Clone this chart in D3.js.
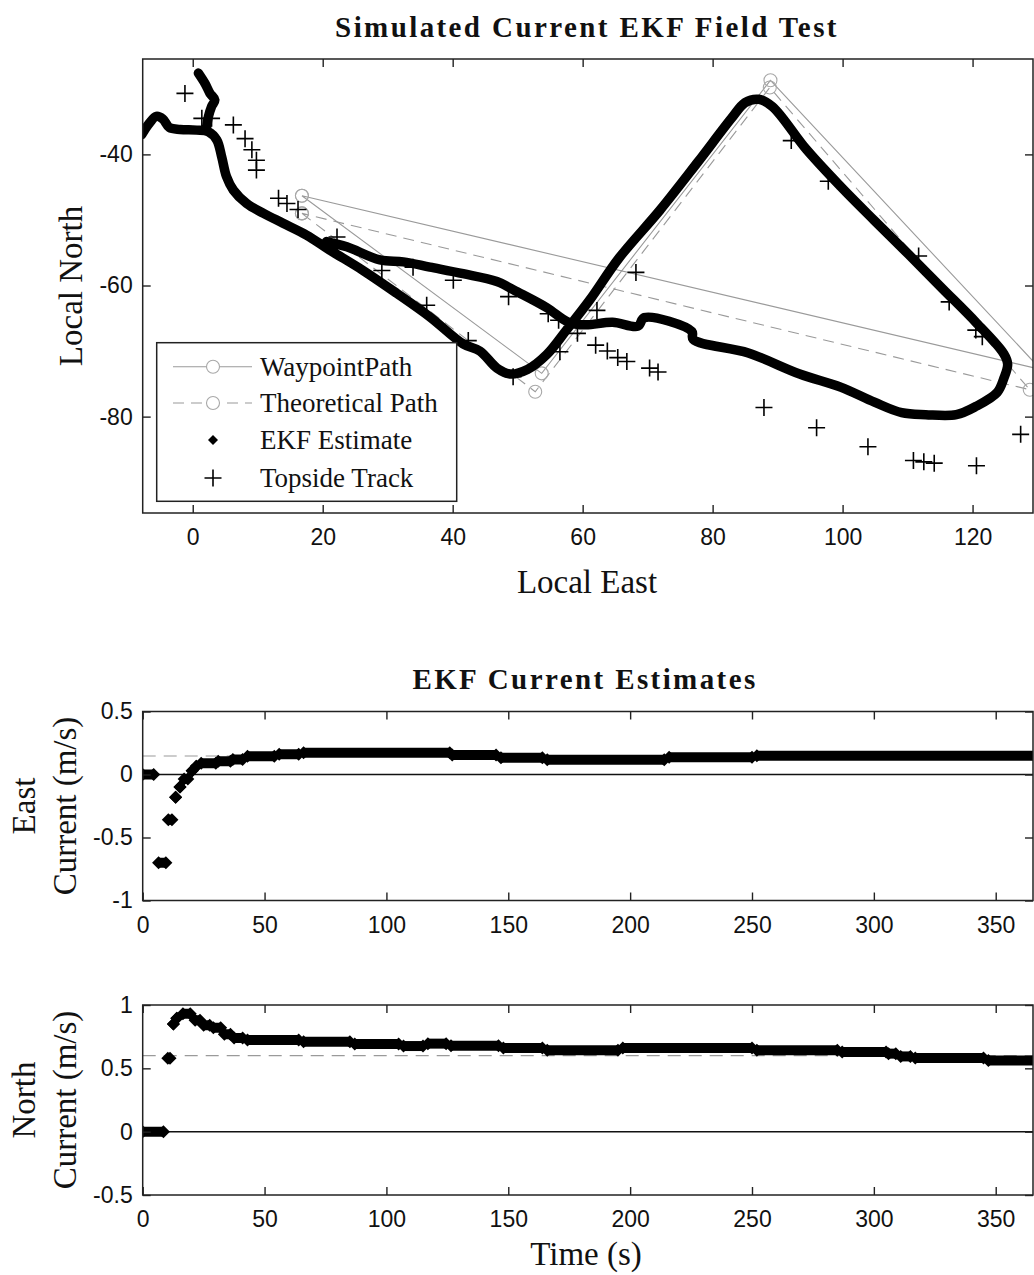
<!DOCTYPE html>
<html>
<head>
<meta charset="utf-8">
<script src="https://cdnjs.cloudflare.com/ajax/libs/d3/7.8.5/d3.min.js"></script>
<style>
  body { margin: 0; background: #fff; }
  .tick text { font-family: "Liberation Sans", Arial, sans-serif; font-size: 23px; fill: #111; }
  .tick line { stroke: #222; stroke-width: 1.4; }
  .serif { font-family: "Liberation Serif", "Times New Roman", serif; fill: #111; }
</style>
</head>
<body>
<div id="chart"></div>
<script>
// ==============================
// Data
// ==============================

// Waypoint path and theoretical (current-drifted) path, closed loops
var waypointEast  = [16.8, 53.7, 88.9, 130.5, 16.8];
var waypointNorth = [-46.3, -73.4, -28.7, -72.8, -46.3];
var theoryEast    = [16.8, 52.7, 88.8, 128.8, 16.8];
var theoryNorth   = [-49.0, -76.2, -29.8, -75.9, -49.0];

// EKF position estimate (NaN = gap between the two pieces of the trail)
var ekfEast = [-7.85, -6.8, -5.6, -4.6, -3.6, -1.95, 0.6, 2.4, 3.7, 4.46, 5.2, 6.25, 8.3, 10.9, 13.9,
  17.5, 21.1, 26.2, 31.4, 36.5, 41.6, 44.2, 46.8, 48.8, 51.5, 54.5, 57.5, 61.1, 65.6, 71.9, 77.7,
  82.9, 85.0, 87.1, 89.2, 94.4, 99.7, 104.9, 110.2, 115.4, 120.6, 124.8, 125.4, 124.8, 123.8,
  120.6, 117.5, 112.8, 109.1, 104.9, 99.7, 93.4, 85.5, 77.0, 76.8, 69.5, 68.5, 64.6, 60.4, 57.8,
  54.5, 50.0, 46.8, 41.6, 36.5, 32.4, 28.8, 23.7, 20.6,
  NaN,
  0.87, 1.9, 2.66, 3.4, 2.9, 2.4, 2.15];
var ekfNorth = [-37.0, -35.4, -34.2, -34.6, -35.9, -36.2, -36.3, -36.55, -37.8, -40.4, -43.4, -45.45, -47.5, -49.0, -50.5,
  -52.3, -54.6, -57.7, -61.2, -64.8, -68.9, -70.0, -72.6, -73.5, -72.8, -70.5, -66.8, -62.2, -55.8, -48.5, -41.2,
  -34.5, -32.1, -31.6, -32.7, -39.2, -44.9, -50.1, -55.3, -60.5, -65.7, -70.4, -72.0, -74.2, -76.3,
  -78.4, -79.7, -79.7, -79.4, -77.8, -75.5, -73.5, -70.3, -68.2, -67.0, -64.9, -66.2, -65.6, -66.0, -65.6,
  -63.4, -61.0, -59.4, -58.2, -57.2, -56.4, -56.1, -54.1, -53.3,
  NaN,
  -27.6, -29.2, -30.7, -31.7, -32.7, -34.3, -35.8];

// Topside (surface) acoustic track fixes
var trackEast = [-1.2, 1.4, 2.9, 6.25, 8.05, 9.1, 9.8, 9.8, 13.2, 14.5, 16.2, 22.2, 29.1, 33.9, 36.0,
  40.1, 42.4, 48.6, 49.3, 54.7, 56.3, 56.5, 59.2, 62.2, 62.0, 63.8, 65.4, 66.8, 68.2, 70.3, 71.6,
  87.9, 92.1, 96.0, 97.8, 103.9, 110.9, 111.7, 112.5, 114.1, 116.4, 120.5, 121.5, 120.6, 127.4];
var trackNorth = [-30.7, -34.5, -34.5, -35.5, -37.6, -39.3, -40.9, -42.4, -46.7, -47.5, -48.4, -52.6, -57.7, -57.2, -63.0,
  -59.2, -68.4, -61.7, -73.9, -64.3, -65.3, -70.1, -67.3, -63.8, -69.1, -70.0, -71.0, -71.6, -58.0, -72.6, -73.2,
  -78.6, -37.9, -81.7, -44.1, -84.6, -86.7, -55.5, -86.9, -87.1, -62.5, -66.8, -67.8, -87.5, -82.7];

// EKF current estimates: runs of [t start, t end, value] (m/s)
var eastRuns = [[0, 4.5, 0], [6.5, 9.5, -0.70], [10.5, 12, -0.36], [13.5, 13.5, -0.18], [15.3, 15.3, -0.10],
  [17, 18.5, -0.035], [20.3, 20.3, 0.03], [22, 22, 0.065], [24, 30, 0.09], [31, 36, 0.105], [37, 41, 0.12],
  [43, 54, 0.145], [56, 64, 0.16], [66, 126, 0.172], [127, 145, 0.155], [147, 164, 0.132],
  [166, 214, 0.117], [216, 250, 0.136], [252, 366, 0.149]];
var northRuns = [[0, 8.5, 0], [10.3, 11.2, 0.58], [12.6, 12.6, 0.85], [14, 14, 0.895], [16.5, 19.5, 0.93],
  [21.5, 23.5, 0.88], [25, 27.5, 0.84], [29, 32, 0.82], [33.5, 36, 0.77], [37.5, 41, 0.74], [43, 64, 0.724],
  [66, 85, 0.71], [87, 105, 0.692], [107, 115, 0.676], [117, 124.5, 0.695], [126.5, 146, 0.679],
  [148, 164, 0.661], [166, 195, 0.642], [197, 250, 0.661], [252, 285, 0.642], [287, 305, 0.629],
  [306, 309, 0.616], [311, 315, 0.594], [317, 345, 0.581], [347, 366, 0.562]];

// Simulated (true) current
var trueEast = 0.147;
var trueNorth = 0.6;

// Tick values
var pathEastTicks = [0, 20, 40, 60, 80, 100, 120];
var pathNorthTicks = [-40, -60, -80];
var timeTicks = [0, 50, 100, 150, 200, 250, 300, 350];
var eastCurTicks = [0.5, 0, -0.5, -1];
var northCurTicks = [1, 0.5, 0, -0.5];

var legendLabels = ["WaypointPath", "Theoretical Path", "EKF Estimate", "Topside Track"];

// ==============================
// SVG and scales
// ==============================
var svgWidth = 1034;
var svgHeight = 1275;

var svg = d3.select("#chart").append("svg")
  .attr("width", svgWidth).attr("height", svgHeight);

var plotLeft = 142.7, plotRight = 1033;

var xPath = d3.scaleLinear().domain([-7.7, 129.3]).range([plotLeft, plotRight]);
var yPath = d3.scaleLinear().domain([-94.7, -25.45]).range([513, 59]);

var xTime = d3.scaleLinear().domain([0, 365.3]).range([plotLeft, plotRight]);
var yEast = d3.scaleLinear().domain([-1, 0.5]).range([900.5, 711.5]);
var yNorth = d3.scaleLinear().domain([-0.5, 1]).range([1195, 1005]);

var grayLine = "#9a9a9a";
var grayMarker = "#a8a8a8";

// plus marker and diamond marker path strings
function plusPath(x, y, r) {
  return "M" + (x - r) + "," + y + "H" + (x + r) + "M" + x + "," + (y - r) + "V" + (y + r);
}
function diamondPath(x, y, r) {
  return "M" + x + "," + (y - r) + "L" + (x + r) + "," + y + "L" + x + "," + (y + r) + "L" + (x - r) + "," + y + "Z";
}

// Draws axes (ticks inside on all four sides) and the box for one panel
function drawFrame(x, y, xTicks, yTicks, id) {
  var y0 = y.range()[0], y1 = y.range()[1];
  var fmt = function(d) { return String(d); };

  svg.append("g").attr("transform", `translate(0, ${y0})`)
    .call(d3.axisBottom(x).tickValues(xTicks).tickSizeInner(-8).tickSizeOuter(0).tickPadding(16).tickFormat(fmt))
    .call(g => g.select(".domain").remove());
  svg.append("g").attr("transform", `translate(0, ${y1})`)
    .call(d3.axisTop(x).tickValues(xTicks).tickSizeInner(-8).tickSizeOuter(0).tickFormat(""))
    .call(g => g.select(".domain").remove());
  svg.append("g").attr("transform", `translate(${plotLeft}, 0)`)
    .call(d3.axisLeft(y).tickValues(yTicks).tickSizeInner(-8).tickSizeOuter(0).tickPadding(10).tickFormat(fmt))
    .call(g => g.select(".domain").remove());
  svg.append("g").attr("transform", `translate(${plotRight}, 0)`)
    .call(d3.axisRight(y).tickValues(yTicks).tickSizeInner(-8).tickSizeOuter(0).tickFormat(""))
    .call(g => g.select(".domain").remove());

  svg.selectAll(".tick text").attr("fill", "#111");

  svg.append("rect")
    .attr("x", plotLeft).attr("y", y1)
    .attr("width", plotRight - plotLeft).attr("height", y0 - y1)
    .attr("fill", "none").attr("stroke", "#222").attr("stroke-width", 1.5);

  svg.append("clipPath").attr("id", id)
    .append("rect")
    .attr("x", plotLeft).attr("y", y1)
    .attr("width", plotRight - plotLeft).attr("height", y0 - y1);
}

// ==============================
// Panel 1: trajectory
// ==============================
svg.append("text").attr("class", "serif")
  .attr("x", 587).attr("y", 37)
  .attr("text-anchor", "middle")
  .attr("font-size", "29px").attr("font-weight", "bold").attr("letter-spacing", "2.4px")
  .text("Simulated Current EKF Field Test");

var pathGroup = svg.append("g").attr("clip-path", "url(#clipPath1)");

var xyLine = d3.line()
  .defined(d => !isNaN(d[0]))
  .x(d => xPath(d[0])).y(d => yPath(d[1]));

var waypoints = waypointEast.map((e, i) => [e, waypointNorth[i]]);
var theory = theoryEast.map((e, i) => [e, theoryNorth[i]]);
var ekf = ekfEast.map((e, i) => [e, ekfNorth[i]]);
var track = trackEast.map((e, i) => [e, trackNorth[i]]);

pathGroup.append("path").datum(waypoints)
  .attr("d", xyLine).attr("fill", "none")
  .attr("stroke", grayLine).attr("stroke-width", 1.1);
pathGroup.append("path").datum(theory)
  .attr("d", xyLine).attr("fill", "none")
  .attr("stroke", grayLine).attr("stroke-width", 1.1).attr("stroke-dasharray", "11,7");

pathGroup.selectAll(".wpCircle").data(waypoints.concat(theory)).enter().append("circle")
  .attr("cx", d => xPath(d[0])).attr("cy", d => yPath(d[1])).attr("r", 6.5)
  .attr("fill", "none").attr("stroke", grayMarker).attr("stroke-width", 1.1);

// EKF trail: densely packed diamonds, drawn as a thick smoothed line
var ekfLine = d3.line()
  .defined(d => !isNaN(d[0]))
  .curve(d3.curveCatmullRom.alpha(0.5))
  .x(d => xPath(d[0])).y(d => yPath(d[1]));

pathGroup.append("path").datum(ekf)
  .attr("d", ekfLine).attr("fill", "none")
  .attr("stroke", "#000").attr("stroke-width", 9.5)
  .attr("stroke-linejoin", "round").attr("stroke-linecap", "round");

pathGroup.selectAll(".track").data(track).enter().append("path")
  .attr("d", d => plusPath(xPath(d[0]), yPath(d[1]), 8.5))
  .attr("stroke", "#000").attr("stroke-width", 1.6).attr("fill", "none");

drawFrame(xPath, yPath, pathEastTicks, pathNorthTicks, "clipPath1");

svg.append("text").attr("class", "serif")
  .attr("x", 587).attr("y", 593)
  .attr("text-anchor", "middle").attr("font-size", "33px")
  .text("Local East");
svg.append("text").attr("class", "serif")
  .attr("transform", "translate(70, 286) rotate(-90)")
  .attr("text-anchor", "middle").attr("dy", "0.35em").attr("font-size", "33px")
  .text("Local North");

// Legend
var legend = svg.append("g");
legend.append("rect")
  .attr("x", 156.7).attr("y", 342.7).attr("width", 300).attr("height", 158.6)
  .attr("fill", "#fff").attr("stroke", "#222").attr("stroke-width", 1.5);

var legendY = [366.7, 403, 440, 478];
legend.append("line").attr("x1", 173).attr("x2", 252).attr("y1", legendY[0]).attr("y2", legendY[0])
  .attr("stroke", grayLine).attr("stroke-width", 1.1);
legend.append("line").attr("x1", 173).attr("x2", 252).attr("y1", legendY[1]).attr("y2", legendY[1])
  .attr("stroke", grayLine).attr("stroke-width", 1.1).attr("stroke-dasharray", "11,7");
legend.selectAll(".lc").data([0, 1]).enter().append("circle")
  .attr("cx", 213).attr("cy", d => legendY[d]).attr("r", 6.5)
  .attr("fill", "#fff").attr("stroke", grayMarker).attr("stroke-width", 1.1);
legend.append("path").attr("d", diamondPath(213, legendY[2], 5)).attr("fill", "#000");
legend.append("path").attr("d", plusPath(213, legendY[3], 8.5))
  .attr("stroke", "#000").attr("stroke-width", 1.6);

legend.selectAll(".lt").data(legendLabels).enter().append("text")
  .attr("class", "serif")
  .attr("x", 260).attr("y", (d, i) => legendY[i]).attr("dy", "0.33em")
  .attr("font-size", "27px")
  .text(d => d);

// ==============================
// Panels 2 and 3: current estimates
// ==============================
svg.append("text").attr("class", "serif")
  .attr("x", 585).attr("y", 689)
  .attr("text-anchor", "middle")
  .attr("font-size", "29px").attr("font-weight", "bold").attr("letter-spacing", "2.4px")
  .text("EKF Current Estimates");

function drawCurrent(y, runs, trueValue, ticks, id, name) {
  var g = svg.append("g").attr("clip-path", `url(#${id})`);

  // true current (dashed) and zero line
  g.append("line")
    .attr("x1", xTime(0)).attr("x2", xTime(365.3))
    .attr("y1", y(trueValue)).attr("y2", y(trueValue))
    .attr("stroke", grayLine).attr("stroke-width", 1.1).attr("stroke-dasharray", "13,8");
  g.append("line")
    .attr("x1", xTime(0)).attr("x2", xTime(365.3))
    .attr("y1", y(0)).attr("y2", y(0))
    .attr("stroke", "#111").attr("stroke-width", 1.5);

  // EKF estimate runs
  g.selectAll(".run").data(runs.filter(d => d[1] > d[0])).enter().append("line")
    .attr("x1", d => xTime(d[0])).attr("x2", d => xTime(d[1]))
    .attr("y1", d => y(d[2])).attr("y2", d => y(d[2]))
    .attr("stroke", "#000").attr("stroke-width", 10);
  var ends = [];
  runs.forEach(function(d) { ends.push([d[0], d[2]]); ends.push([d[1], d[2]]); });
  g.selectAll(".end").data(ends).enter().append("path")
    .attr("d", d => diamondPath(xTime(d[0]), y(d[1]), 6.5))
    .attr("fill", "#000");

  drawFrame(xTime, y, timeTicks, ticks, id);

  var yMid = (y.range()[0] + y.range()[1]) / 2;
  svg.append("text").attr("class", "serif")
    .attr("transform", `translate(23, ${yMid}) rotate(-90)`)
    .attr("text-anchor", "middle").attr("dy", "0.35em").attr("font-size", "33px")
    .text(name);
  svg.append("text").attr("class", "serif")
    .attr("transform", `translate(64, ${yMid}) rotate(-90)`)
    .attr("text-anchor", "middle").attr("dy", "0.35em").attr("font-size", "33px")
    .text("Current (m/s)");
}

drawCurrent(yEast, eastRuns, trueEast, eastCurTicks, "clipPath2", "East");
drawCurrent(yNorth, northRuns, trueNorth, northCurTicks, "clipPath3", "North");

svg.append("text").attr("class", "serif")
  .attr("x", 586).attr("y", 1265)
  .attr("text-anchor", "middle").attr("font-size", "33px")
  .text("Time (s)");
</script>
</body>
</html>
